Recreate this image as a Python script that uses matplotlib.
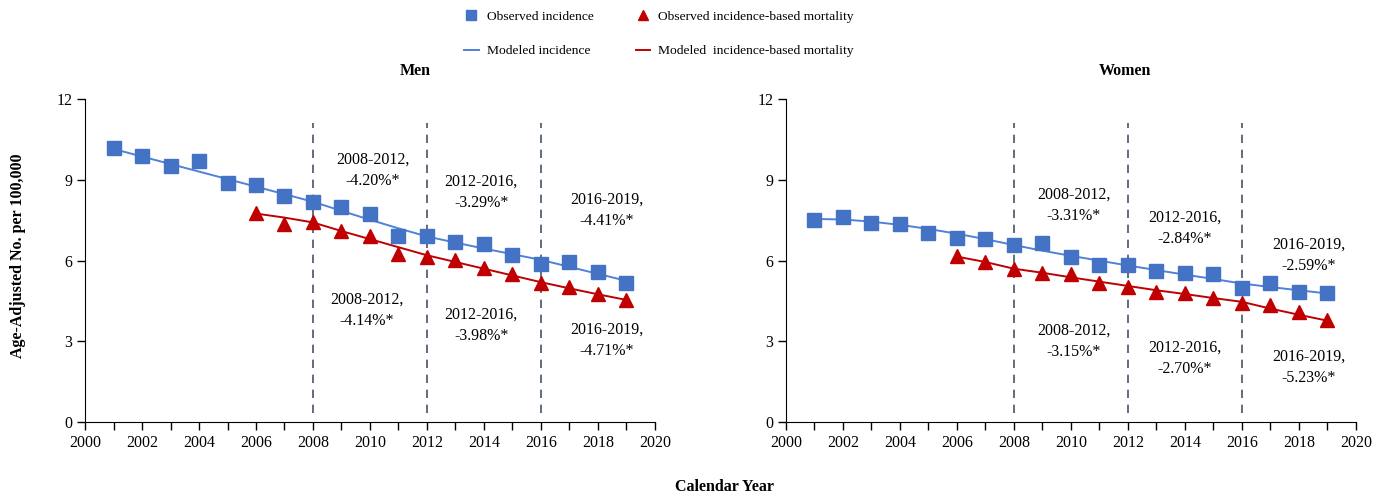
import matplotlib
matplotlib.use("Agg")
import matplotlib.pyplot as plt
from matplotlib.lines import Line2D

plt.rcParams['font.family'] = ['Liberation Serif', 'DejaVu Serif']

# ---- data ----
years_inc = list(range(2001, 2020))
years_mort = list(range(2006, 2020))

men_obs_inc = [10.19, 9.89, 9.52, 9.70, 8.88, 8.81, 8.40, 8.18, 8.00, 7.73,
               6.91, 6.91, 6.69, 6.62, 6.20, 5.87, 5.95, 5.58, 5.18]
men_mod_inc = [10.15, 9.87, 9.59, 9.31, 9.03, 8.75, 8.47, 8.19, 7.85, 7.52,
               7.20, 6.90, 6.67, 6.45, 6.24, 6.03, 5.77, 5.51, 5.25]
men_obs_mort = [7.77, 7.36, 7.42, 7.11, 6.93, 6.23, 6.15, 6.02, 5.74, 5.49,
                5.18, 5.03, 4.76, 4.54]
men_mod_mort = [7.75, 7.60, 7.42, 7.10, 6.80, 6.50, 6.20, 5.95, 5.70, 5.45,
                5.20, 4.97, 4.75, 4.54]

women_obs_inc = [7.51, 7.61, 7.40, 7.36, 7.04, 6.86, 6.82, 6.58, 6.67, 6.15,
                 5.84, 5.84, 5.61, 5.53, 5.49, 4.97, 5.16, 4.84, 4.78]
women_mod_inc = [7.55, 7.53, 7.45, 7.33, 7.18, 7.00, 6.80, 6.58, 6.37, 6.18,
                 6.00, 5.82, 5.65, 5.48, 5.32, 5.15, 5.02, 4.90, 4.78]
women_obs_mort = [6.17, 5.96, 5.68, 5.55, 5.50, 5.16, 5.03, 4.84, 4.78, 4.62,
                  4.44, 4.37, 4.10, 3.79]
women_mod_mort = [6.15, 5.95, 5.70, 5.55, 5.38, 5.22, 5.06, 4.90, 4.76, 4.61,
                  4.47, 4.22, 3.99, 3.77]

joinpoints = [2008, 2012, 2016]

# (x, y, text)
men_notes = [
    (2010.1, 9.35, "2008-2012,\n-4.20%*"),
    (2013.9, 8.55, "2012-2016,\n-3.29%*"),
    (2018.3, 7.88, "2016-2019,\n-4.41%*"),
    (2009.9, 4.15, "2008-2012,\n-4.14%*"),
    (2013.9, 3.60, "2012-2016,\n-3.98%*"),
    (2018.3, 3.05, "2016-2019,\n-4.71%*"),
]
women_notes = [
    (2010.1, 8.07, "2008-2012,\n-3.31%*"),
    (2014.0, 7.20, "2012-2016,\n-2.84%*"),
    (2018.35, 6.20, "2016-2019,\n-2.59%*"),
    (2010.1, 3.00, "2008-2012,\n-3.15%*"),
    (2014.0, 2.38, "2012-2016,\n-2.70%*"),
    (2018.35, 2.04, "2016-2019,\n-5.23%*"),
]

BLUE = '#4472C4'
BLUE_LINE = '#4F81D9'
RED = '#C00000'
DASH = '#44546A'
FS = 11.5

fig = plt.figure(figsize=(13.83, 4.96), dpi=100)
ax_m = fig.add_axes([0.0615, 0.149, 0.412, 0.651])
ax_w = fig.add_axes([0.5683, 0.149, 0.412, 0.651])


def draw_panel(ax, obs_inc, mod_inc, obs_mort, mod_mort, notes, title, title_x):
    for jp in joinpoints:
        ax.plot([jp, jp], [0.35, 11.1], color=DASH, lw=1.2, ls=(0, (5, 4)))
    ax.plot(years_inc, mod_inc, color=BLUE_LINE, lw=1.4, zorder=2)
    ax.plot(years_mort, mod_mort, color=RED, lw=1.4, zorder=2)
    ax.plot(years_inc, obs_inc, 's', color=BLUE, ms=9.5, zorder=3)
    ax.plot(years_mort, obs_mort, '^', color=RED, ms=9.5, zorder=3)
    for x, y, t in notes:
        ax.text(x, y, t, ha='center', va='center', fontsize=FS, linespacing=1.45)
    ax.set_xlim(2000, 2020)
    ax.set_ylim(0, 12)
    ax.set_xticks(range(2000, 2021))
    ax.set_xticklabels([str(y) if y % 2 == 0 else '' for y in range(2000, 2021)])
    ax.set_yticks([0, 3, 6, 9, 12])
    ax.tick_params(direction='out', length=6, width=1, labelsize=FS, pad=3)
    for s in ('top', 'right'):
        ax.spines[s].set_visible(False)
    ax.text(title_x, 1.087, title, transform=ax.transAxes, ha='center',
            va='center', fontsize=FS, fontweight='bold')


draw_panel(ax_m, men_obs_inc, men_mod_inc, men_obs_mort, men_mod_mort,
           men_notes, 'Men', 0.58)
draw_panel(ax_w, women_obs_inc, women_mod_inc, women_obs_mort, women_mod_mort,
           women_notes, 'Women', 0.595)

ax_m.set_ylabel('Age-Adjusted No. per 100,000', fontsize=FS, fontweight='bold')
ax_m.yaxis.set_label_coords(-0.103, 0.515)
fig.text(0.5235, 0.018, 'Calendar Year', ha='center', va='center',
         fontsize=FS, fontweight='bold')

handles = [
    Line2D([], [], marker='s', color=BLUE, ls='none', ms=6.5),
    Line2D([], [], color=BLUE_LINE, lw=1.4),
    Line2D([], [], marker='^', color=RED, ls='none', ms=6.5),
    Line2D([], [], color=RED, lw=1.4),
]
labels = ['Observed incidence', 'Modeled incidence',
          'Observed incidence-based mortality', 'Modeled  incidence-based mortality']
fig.legend(handles, labels, loc='upper center', bbox_to_anchor=(0.4765, 1.004), ncol=2,
           frameon=False, fontsize=9.7, labelspacing=1.65, columnspacing=3.1,
           handlelength=1.1, handletextpad=0.6)

fig.savefig('out.png', dpi=100)
